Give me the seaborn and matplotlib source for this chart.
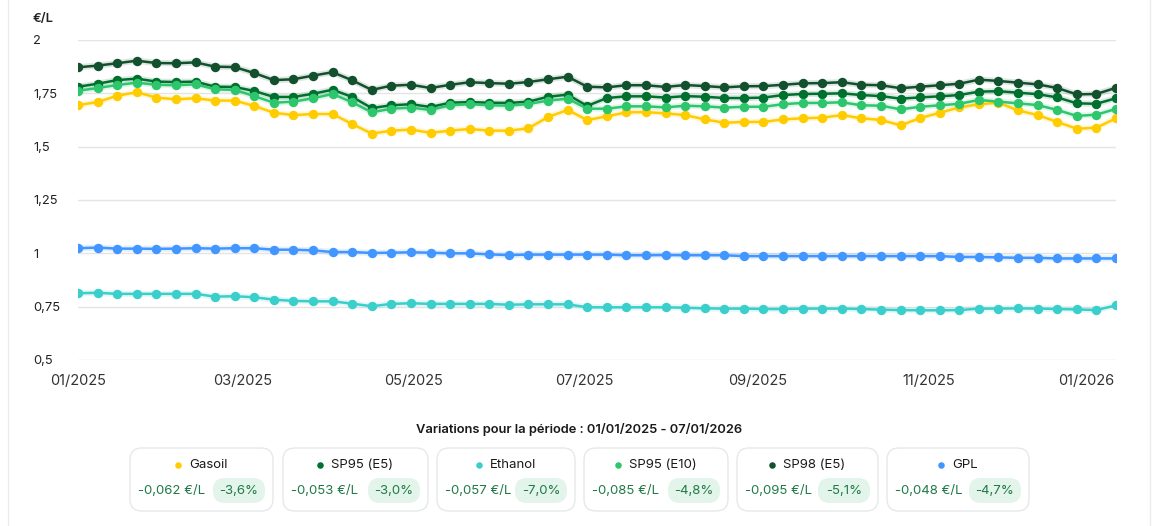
import numpy as np
import pandas as pd
import matplotlib
matplotlib.use('Agg')
import matplotlib.pyplot as plt
import matplotlib.dates as mdates
import matplotlib.transforms as mtransforms
from matplotlib.patches import FancyBboxPatch
import seaborn as sns

# weekly prices, 01/01/2025 -> 07/01/2026
dates = pd.date_range('2025-01-01', periods=54, freq='7D')

gasoil = [1.695, 1.709, 1.739, 1.755, 1.730, 1.722, 1.727, 1.716, 1.716, 1.691,
          1.659, 1.648, 1.653, 1.653, 1.606, 1.561, 1.575, 1.580, 1.565, 1.575,
          1.583, 1.575, 1.575, 1.586, 1.639, 1.672, 1.625, 1.642, 1.661, 1.662,
          1.656, 1.648, 1.628, 1.612, 1.616, 1.616, 1.628, 1.633, 1.636, 1.648,
          1.633, 1.625, 1.600, 1.634, 1.659, 1.684, 1.699, 1.706, 1.670, 1.648,
          1.616, 1.584, 1.589, 1.633]
sp95_e5 = [1.781, 1.795, 1.812, 1.819, 1.805, 1.803, 1.805, 1.781, 1.780, 1.761,
           1.733, 1.733, 1.748, 1.767, 1.733, 1.681, 1.694, 1.699, 1.686, 1.706,
           1.709, 1.706, 1.705, 1.711, 1.734, 1.744, 1.691, 1.728, 1.736, 1.736,
           1.730, 1.737, 1.734, 1.728, 1.728, 1.730, 1.742, 1.747, 1.748, 1.750,
           1.742, 1.737, 1.725, 1.731, 1.736, 1.742, 1.758, 1.760, 1.753, 1.746,
           1.731, 1.703, 1.701, 1.727]
ethanol = [0.813, 0.815, 0.810, 0.810, 0.810, 0.810, 0.810, 0.797, 0.799, 0.794,
           0.783, 0.777, 0.775, 0.775, 0.764, 0.752, 0.763, 0.766, 0.763, 0.763,
           0.763, 0.763, 0.759, 0.761, 0.761, 0.761, 0.747, 0.747, 0.747, 0.747,
           0.747, 0.745, 0.742, 0.741, 0.741, 0.739, 0.739, 0.741, 0.741, 0.741,
           0.739, 0.736, 0.734, 0.733, 0.733, 0.734, 0.741, 0.741, 0.742, 0.741,
           0.739, 0.737, 0.734, 0.756]
sp95_e10 = [1.762, 1.775, 1.789, 1.800, 1.790, 1.788, 1.792, 1.769, 1.766, 1.737,
            1.706, 1.711, 1.727, 1.747, 1.708, 1.661, 1.678, 1.683, 1.672, 1.694,
            1.699, 1.694, 1.692, 1.700, 1.716, 1.725, 1.678, 1.678, 1.689, 1.689,
            1.684, 1.692, 1.689, 1.683, 1.687, 1.687, 1.699, 1.705, 1.705, 1.708,
            1.694, 1.692, 1.675, 1.687, 1.694, 1.701, 1.719, 1.711, 1.703, 1.695,
            1.672, 1.644, 1.650, 1.677]
sp98_e5 = [1.872, 1.880, 1.891, 1.903, 1.892, 1.891, 1.895, 1.875, 1.873, 1.845,
           1.812, 1.816, 1.833, 1.849, 1.811, 1.766, 1.786, 1.790, 1.775, 1.790,
           1.802, 1.798, 1.795, 1.803, 1.816, 1.828, 1.781, 1.778, 1.788, 1.788,
           1.780, 1.789, 1.784, 1.778, 1.783, 1.784, 1.790, 1.797, 1.798, 1.802,
           1.790, 1.788, 1.774, 1.781, 1.788, 1.795, 1.814, 1.808, 1.800, 1.792,
           1.775, 1.745, 1.747, 1.776]
gpl = [1.024, 1.027, 1.022, 1.022, 1.021, 1.022, 1.024, 1.022, 1.024, 1.024,
       1.017, 1.017, 1.014, 1.006, 1.006, 1.002, 1.003, 1.005, 1.003, 1.000,
       1.000, 0.995, 0.992, 0.994, 0.994, 0.994, 0.994, 0.994, 0.991, 0.991,
       0.992, 0.991, 0.991, 0.991, 0.987, 0.987, 0.987, 0.987, 0.987, 0.987,
       0.987, 0.987, 0.987, 0.987, 0.987, 0.983, 0.983, 0.981, 0.979, 0.979,
       0.976, 0.976, 0.976, 0.976]

fuels = ['Gasoil', 'SP95 (E5)', 'Ethanol', 'SP95 (E10)', 'SP98 (E5)', 'GPL']
colors = ['#FFCC00', '#00702F', '#3ACFCB', '#2EC66D', '#13502E', '#4196FF']
deltas = ['-0,062 €/L', '-0,053 €/L', '-0,057 €/L', '-0,085 €/L', '-0,095 €/L', '-0,048 €/L']
pcts = ['-3,6%', '-3,0%', '-7,0%', '-4,8%', '-5,1%', '-4,7%']
y_ticks = [0.5, 0.75, 1, 1.25, 1.5, 1.75, 2]
y_labels = ['0,5', '0,75', '1', '1,25', '1,5', '1,75', '2']

series = [gasoil, sp95_e5, ethanol, sp95_e10, sp98_e5, gpl]
df = pd.concat([pd.DataFrame({'date': dates, 'price': vals, 'fuel': name})
                for name, vals in zip(fuels, series)], ignore_index=True)
palette = dict(zip(fuels, colors))

sns.set_theme(style='white')
plt.rcParams['font.family'] = ['Inter', 'DejaVu Sans']

W, H = 1153, 526
fig = plt.figure(figsize=(W / 100, H / 100), dpi=100)

# overlay in pixel coordinates for the card / legend boxes
ov = fig.add_axes([0, 0, 1, 1])
ov.set_xlim(0, W)
ov.set_ylim(H, 0)
ov.axis('off')
ov.plot([8, 8], [0, H], color='#ececec', lw=1)
ov.plot([1150, 1150], [0, H], color='#ececec', lw=1)

ax = fig.add_axes([78 / W, 1 - 360 / H, (1116 - 78) / W, 320 / H])
ax.set_facecolor('none')

# soft halo under each line, then the line with markers
sns.lineplot(data=df, x='date', y='price', hue='fuel', hue_order=fuels,
             palette=palette, linewidth=4.5, alpha=0.14, legend=False, ax=ax)
sns.lineplot(data=df, x='date', y='price', hue='fuel', hue_order=fuels,
             palette=palette, linewidth=1.8, marker='o', markersize=6.8,
             markeredgewidth=0, legend=False, ax=ax)

ax.set_xlim(dates[0], dates[-1])
ax.set_ylim(0.5, 2)
ax.set_yticks(y_ticks)
ax.set_yticklabels(y_labels)
ax.grid(axis='y', color='#e4e4e4', lw=1)
ax.grid(axis='x', visible=False)
for s in ax.spines.values():
    s.set_visible(False)
ax.set_xlabel('')
ax.set_ylabel('')
ax.xaxis.set_major_locator(mdates.MonthLocator(bymonth=[1, 3, 5, 7, 9, 11]))
ax.xaxis.set_major_formatter(mdates.DateFormatter('%m/%Y'))
ax.tick_params(axis='y', length=0, pad=32.4, labelsize=9.3, labelcolor='#222222')
ax.tick_params(axis='x', length=0, pad=10, labelsize=10.5, labelcolor='#333333')
for lab in ax.get_yticklabels():
    lab.set_ha('left')
xlabs = ax.get_xticklabels()
shift = mtransforms.ScaledTranslation(-13 / 100, 0, fig.dpi_scale_trans)
xlabs[-1].set_transform(xlabs[-1].get_transform() + shift)

fig.text(33 / W, 1 - 19 / H, '€/L', ha='left', va='center', fontsize=9.3,
         color='#222222', fontweight='semibold')

ov.text(579, 430, 'Variations pour la période : 01/01/2025 - 07/01/2026',
        ha='center', va='center', fontsize=9.3, fontweight='semibold', color='#1a1a1a')

box_left = [130, 283, 437, 584, 737, 887]
box_right = [273, 428, 575, 728, 878, 1029]
val_color = '#1F7A47'
renderer = fig.canvas.get_renderer()
for i, name in enumerate(fuels):
    x0, x1 = box_left[i], box_right[i]
    ov.add_patch(FancyBboxPatch((x0, 448), x1 - x0, 63,
                                boxstyle='round,pad=0,rounding_size=12',
                                facecolor='white', edgecolor='#e6e8ea', lw=1))
    cx = (x0 + x1) / 2
    t = ov.text(0, 465, name, ha='left', va='center', fontsize=9.5, color='#1a1a1a')
    w = t.get_window_extent(renderer=renderer).width
    gl = cx - (w + 14) / 2
    t.set_x(gl + 14)
    ov.scatter([gl + 3], [465], s=22, color=colors[i], linewidths=0)
    ov.text(x0 + 8, 491, deltas[i], ha='left', va='center', fontsize=9.5, color=val_color)
    ov.add_patch(FancyBboxPatch((x1 - 60, 478), 52, 25,
                                boxstyle='round,pad=0,rounding_size=12',
                                facecolor='#E3F5EA', edgecolor='none'))
    ov.text(x1 - 34, 491, pcts[i], ha='center', va='center', fontsize=9.5, color=val_color)

fig.savefig('out.png', dpi=100)
